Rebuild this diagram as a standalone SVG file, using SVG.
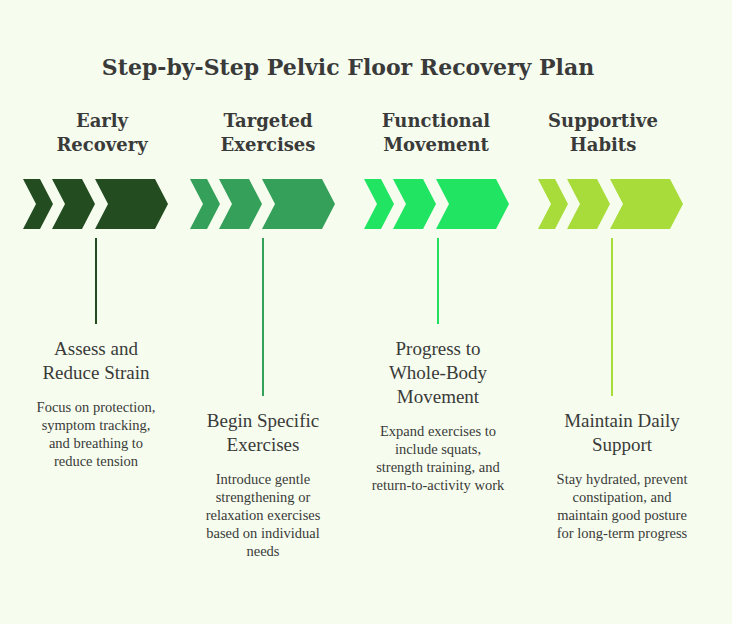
<svg xmlns="http://www.w3.org/2000/svg" width="732" height="624" viewBox="0 0 732 624">
<style>
text{font-family:"DejaVu Serif","Liberation Serif",serif;fill:#3a3a3a;text-anchor:middle}
.t{font-size:22px;font-weight:bold}
.h{font-size:18px;font-weight:bold}
.s{font-family:"Liberation Serif",serif;font-size:19px}
.b{font-family:"Liberation Serif",serif;font-size:14.5px}
</style>
<defs>
<g id="chev">
<polygon points="0,0 17,0 30,25 17,50 0,50 13,25"/>
<polygon points="29,0 59,0 72,25 59,50 29,50 42,25"/>
<polygon points="72,0 132,0 145,25 132,50 72,50 85,25"/>
</g>
</defs>
<rect width="732" height="624" fill="#f6fdee"/>
<text class="t" x="348" y="75">Step-by-Step Pelvic Floor Recovery Plan</text>
<g id="connectors" stroke-width="2">
<line x1="96" y1="238" x2="96" y2="324" stroke="#234d20"/>
<line x1="263" y1="238" x2="263" y2="396" stroke="#34a05a"/>
<line x1="438" y1="238" x2="438" y2="324" stroke="#22e060"/>
<line x1="612" y1="238" x2="612" y2="396" stroke="#a8dc3a"/>
</g>
<g id="step1">
<use href="#chev" x="23" y="179" fill="#234d20"/>
<text class="h" x="102" y="127">Early</text><text class="h" x="102" y="151">Recovery</text>
<text class="s" x="96" y="355">Assess and</text><text class="s" x="96" y="379">Reduce Strain</text>
<text class="b" x="96" y="412">Focus on protection,</text><text class="b" x="96" y="430">symptom tracking,</text><text class="b" x="96" y="448">and breathing to</text><text class="b" x="96" y="466">reduce tension</text>
</g>
<g id="step2">
<use href="#chev" x="190" y="179" fill="#34a05a"/>
<text class="h" x="268" y="127">Targeted</text><text class="h" x="268" y="151">Exercises</text>
<text class="s" x="263" y="427">Begin Specific</text><text class="s" x="263" y="451">Exercises</text>
<text class="b" x="263" y="484">Introduce gentle</text><text class="b" x="263" y="502">strengthening or</text><text class="b" x="263" y="520">relaxation exercises</text><text class="b" x="263" y="538">based on individual</text><text class="b" x="263" y="556">needs</text>
</g>
<g id="step3">
<use href="#chev" x="364" y="179" fill="#20e462"/>
<text class="h" x="436" y="127">Functional</text><text class="h" x="436" y="151">Movement</text>
<text class="s" x="438" y="355">Progress to</text><text class="s" x="438" y="379">Whole-Body</text><text class="s" x="438" y="403">Movement</text>
<text class="b" x="438" y="436">Expand exercises to</text><text class="b" x="438" y="454">include squats,</text><text class="b" x="438" y="472">strength training, and</text><text class="b" x="438" y="490">return-to-activity work</text>
</g>
<g id="step4">
<use href="#chev" x="538" y="179" fill="#a8dc3a"/>
<text class="h" x="603" y="127">Supportive</text><text class="h" x="603" y="151">Habits</text>
<text class="s" x="622" y="427">Maintain Daily</text><text class="s" x="622" y="451">Support</text>
<text class="b" x="622" y="484">Stay hydrated, prevent</text><text class="b" x="622" y="502">constipation, and</text><text class="b" x="622" y="520">maintain good posture</text><text class="b" x="622" y="538">for long-term progress</text>
</g>
</svg>
